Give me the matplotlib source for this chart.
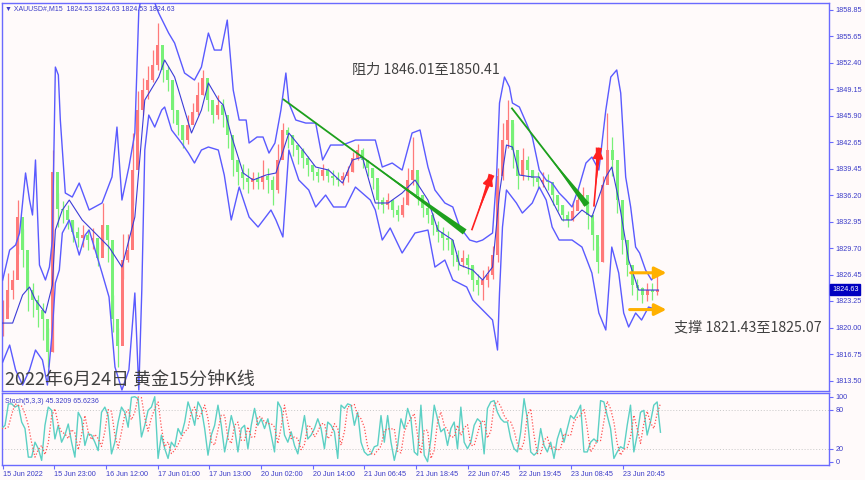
import numpy as np
import pandas as pd
import matplotlib
matplotlib.use("Agg")
import matplotlib.pyplot as plt
import matplotlib.transforms as mtransforms

# ---------------- data ----------------
close = [1821.0, 1824.6, 1825.8, 1833.5, 1829.5, 1824.6, 1823.4, 1822.2, 1821.0, 1817.0,
         1839.0, 1834.5, 1834.4, 1833.2, 1831.7, 1831.0, 1831.3, 1830.7, 1831.0, 1828.5,
         1832.5, 1830.7, 1821.0, 1817.8, 1828.3, 1829.5, 1839.3, 1846.6, 1849.1, 1850.3,
         1852.1, 1854.6, 1851.5, 1850.3, 1846.6, 1844.8, 1843.0, 1844.8, 1846.4, 1848.5,
         1850.5, 1847.8, 1846.0, 1847.2, 1846.0, 1843.6, 1840.5, 1839.0, 1838.3, 1837.8,
         1838.3, 1837.8, 1838.6, 1838.1, 1836.8, 1840.5, 1844.2, 1843.6, 1842.3, 1841.7,
         1840.7, 1839.9, 1839.0, 1838.6, 1839.3, 1838.6, 1838.3, 1838.1, 1838.5, 1839.0,
         1840.7, 1841.7, 1840.5, 1839.5, 1838.3, 1835.6, 1835.0, 1835.6, 1834.4, 1833.8,
         1835.0, 1838.1, 1839.3, 1836.2, 1834.6, 1833.8, 1832.5, 1831.7, 1831.0, 1830.7,
         1828.9, 1828.0, 1828.5, 1827.7, 1825.8, 1825.2, 1825.8, 1826.4, 1828.9, 1838.6,
         1843.0, 1845.4, 1841.7, 1838.6, 1840.5, 1839.3, 1838.3, 1837.8, 1838.1, 1837.8,
         1836.2, 1835.0, 1833.8, 1833.2, 1834.2, 1835.6, 1836.2, 1833.8, 1831.3, 1828.0,
         1837.5, 1841.7, 1840.5, 1835.6, 1830.7, 1827.7, 1825.2, 1824.8, 1824.0, 1824.6,
         1824.4, 1824.63]
high = [1823.4, 1826.7, 1827.0, 1835.6, 1832.0, 1827.0, 1825.4, 1824.0, 1823.0, 1820.0,
        1841.7, 1836.5, 1835.5, 1835.0, 1833.0, 1832.3, 1832.5, 1832.0, 1832.2, 1830.5,
        1835.2, 1832.5, 1824.0, 1820.0, 1831.5, 1831.5, 1843.8, 1849.0, 1850.5, 1852.0,
        1854.0, 1857.2, 1853.0, 1852.0, 1848.5, 1846.5, 1844.8, 1846.0, 1847.5, 1850.0,
        1851.5, 1850.0, 1847.5, 1848.5, 1848.0, 1845.5, 1843.0, 1840.5, 1840.0, 1839.5,
        1839.0, 1839.0, 1840.5, 1839.5, 1838.5, 1842.5, 1845.0, 1844.5, 1843.5, 1842.5,
        1842.0, 1841.0, 1840.0, 1839.5, 1840.0, 1839.5, 1839.3, 1839.0, 1839.0, 1839.8,
        1841.5, 1842.5, 1842.0, 1840.5, 1839.5, 1837.5, 1836.0, 1836.5, 1835.6, 1835.0,
        1836.0, 1839.5, 1843.3, 1838.5, 1836.0, 1835.0, 1834.0, 1833.0, 1832.3, 1831.8,
        1830.5, 1829.5, 1829.5, 1829.0, 1827.5, 1826.5, 1827.0, 1827.5, 1830.0, 1839.5,
        1845.0, 1847.8, 1845.0, 1841.0, 1842.0, 1841.0, 1839.3, 1839.0, 1839.0, 1838.8,
        1837.2, 1836.0, 1835.0, 1834.3, 1835.5, 1837.0, 1837.2, 1835.5, 1833.0, 1830.0,
        1838.5, 1846.2, 1843.3, 1838.5, 1833.0, 1829.0, 1826.7, 1826.0, 1825.0, 1825.5,
        1825.5, 1826.4]
low = [1819.0, 1822.5, 1823.5, 1829.0, 1827.4, 1822.0, 1821.3, 1820.1, 1818.5, 1815.2,
       1817.0, 1832.3, 1832.8, 1832.0, 1830.5, 1829.8, 1829.9, 1829.5, 1829.6, 1827.5,
       1830.0, 1828.0, 1819.5, 1815.2, 1826.0, 1828.0, 1835.0, 1844.0, 1846.0, 1848.0,
       1850.0, 1851.5, 1850.0, 1849.0, 1845.0, 1843.5, 1842.0, 1842.5, 1845.0, 1846.0,
       1848.5, 1846.5, 1845.0, 1845.5, 1844.5, 1842.0, 1838.5, 1837.5, 1837.0, 1836.5,
       1837.0, 1837.0, 1837.0, 1836.5, 1835.0, 1836.5, 1841.5, 1842.0, 1841.0, 1840.0,
       1839.5, 1838.5, 1838.0, 1837.8, 1838.0, 1837.8, 1837.5, 1837.3, 1837.5, 1837.8,
       1839.0, 1840.5, 1839.5, 1838.5, 1837.0, 1834.5, 1834.0, 1834.5, 1833.5, 1833.0,
       1833.5, 1835.0, 1837.5, 1835.0, 1833.5, 1832.8, 1831.3, 1830.5, 1829.5, 1829.5,
       1827.5, 1827.0, 1827.4, 1826.5, 1824.5, 1824.0, 1823.4, 1825.0, 1826.0, 1828.0,
       1838.0, 1842.0, 1839.5, 1837.0, 1838.0, 1838.0, 1837.3, 1837.0, 1837.2, 1836.8,
       1835.0, 1834.3, 1833.0, 1832.3, 1833.0, 1834.5, 1835.0, 1832.0, 1829.5, 1826.7,
       1828.0, 1838.0, 1838.5, 1834.0, 1829.0, 1826.3, 1824.0, 1823.4, 1823.0, 1823.2,
       1823.4, 1824.0]
first_bar, last_bar = 0, 659

upper_x = [0, 7, 13, 17, 23, 27, 30, 33, 37, 43, 47, 50, 53, 56, 58, 63, 70, 77, 87, 100,
           110, 115, 120, 127, 133, 137, 140, 150, 157, 167, 173, 183, 193, 200, 207, 213, 220, 226, 232, 238,
           245, 248, 256, 262, 268, 274, 280, 285, 288, 295, 305, 315, 322, 330, 342, 355, 375, 382, 392, 402,
           412, 420, 428, 435, 445, 453, 460, 470, 477, 483, 493, 497, 500, 505, 510, 513, 520, 527, 533, 540,
           547, 553, 560, 567, 573, 580, 587, 593, 600, 607, 612, 618, 622, 627, 632, 637, 641, 647, 653, 660]
upper = [1825.82, 1829.48, 1830.10, 1831.57, 1838.91, 1835.60, 1833.77, 1840.50, 1827.65, 1825.82,
         1827.40, 1830.71, 1851.87, 1850.90, 1845.39, 1836.46, 1835.97, 1837.68, 1834.38, 1835.24,
         1838.42, 1844.53, 1835.60, 1839.64, 1843.80, 1858.85, 1860.68, 1860.68, 1858.48, 1856.03,
         1854.81, 1851.14, 1850.28, 1851.87, 1856.03, 1853.95, 1853.95, 1857.62, 1849.06, 1845.39,
         1845.39, 1842.58, 1843.31, 1843.31, 1841.35, 1842.58, 1846.61, 1851.14, 1847.47, 1845.39,
         1845.02, 1845.02, 1840.50, 1842.33, 1842.33, 1842.94, 1842.94, 1839.64, 1840.13, 1839.27,
         1843.80, 1844.17, 1839.64, 1836.83, 1835.24, 1834.75, 1832.30, 1830.71, 1830.46, 1830.71,
         1831.57, 1838.42, 1847.47, 1850.65, 1849.43, 1847.47, 1846.98, 1845.02, 1843.31, 1839.27,
         1838.05, 1837.68, 1836.46, 1835.60, 1834.75, 1837.19, 1840.13, 1840.86, 1839.27, 1846.61,
         1850.65, 1851.51, 1848.69, 1838.42, 1834.75, 1829.85, 1829.12, 1827.04, 1825.82, 1827.04]

lower_x = [0, 7, 13, 20, 27, 33, 40, 45, 50, 53, 57, 60, 67, 77, 83, 87, 100, 107, 113, 120,
           127, 133, 137, 140, 143, 147, 153, 160, 163, 170, 180, 187, 193, 200, 207, 217, 223, 230, 238, 248,
           257, 270, 275, 282, 288, 298, 308, 315, 325, 333, 345, 355, 370, 375, 382, 390, 402, 415, 428, 435,
           445, 453, 467, 473, 483, 493, 498, 500, 503, 507, 517, 523, 533, 540, 547, 553, 560, 573, 583, 593,
           600, 607, 613, 620, 625, 630, 637, 643, 650, 660]
lower = [1815.78, 1817.86, 1814.81, 1812.97, 1814.81, 1817.25, 1816.03, 1812.97, 1819.70, 1825.45,
         1827.04, 1831.57, 1833.16, 1828.87, 1831.32, 1831.93, 1826.67, 1823.74, 1815.17, 1812.36,
         1814.81, 1824.23, 1812.36, 1824.59, 1841.72, 1846.00, 1844.53, 1846.61, 1846.98, 1844.17,
         1842.58, 1841.35, 1840.13, 1841.72, 1842.09, 1841.72, 1838.66, 1833.16, 1837.19, 1833.52,
         1832.30, 1834.38, 1833.16, 1831.08, 1841.72, 1838.05, 1836.83, 1834.75, 1836.21, 1834.75,
         1834.75, 1837.19, 1835.60, 1834.38, 1830.71, 1832.18, 1829.12, 1831.57, 1831.93, 1827.40,
         1828.26, 1825.82, 1824.96, 1823.37, 1822.15, 1820.92, 1817.25, 1824.23, 1832.30, 1836.83,
         1835.24, 1834.01, 1835.24, 1837.19, 1835.60, 1832.30, 1830.71, 1830.71, 1829.85, 1826.67,
         1821.78, 1819.70, 1829.85, 1826.67, 1821.78, 1820.07, 1821.78, 1820.92, 1822.51, 1822.15]

middle_x = [0, 10, 20, 27, 33, 43, 50, 53, 60, 67, 80, 93, 107, 120, 133, 143, 157, 163, 173, 183,
            190, 200, 207, 217, 222, 230, 242, 252, 265, 275, 288, 302, 315, 328, 342, 352, 362, 375, 388, 402,
            415, 428, 438, 453, 460, 473, 483, 493, 500, 507, 513, 520, 533, 540, 550, 563, 573, 583, 593, 607,
            613, 620, 630, 640, 653, 660]
middle = [1820.55, 1820.55, 1823.98, 1824.96, 1823.37, 1821.78, 1825.20, 1831.93, 1834.38, 1835.60,
          1833.16, 1831.57, 1829.85, 1827.40, 1833.52, 1847.84, 1850.65, 1852.73, 1850.65, 1846.61,
          1843.80, 1846.61, 1849.92, 1847.84, 1847.22, 1843.55, 1838.91, 1838.05, 1838.66, 1838.91,
          1843.80, 1841.72, 1839.64, 1839.27, 1837.68, 1840.50, 1840.86, 1835.24, 1835.24, 1836.46,
          1838.05, 1835.60, 1831.93, 1830.71, 1827.65, 1827.04, 1825.82, 1827.40, 1836.46, 1842.33,
          1842.09, 1838.66, 1838.42, 1838.42, 1836.21, 1833.16, 1833.16, 1834.38, 1833.52, 1838.42,
          1839.64, 1835.60, 1828.26, 1824.59, 1824.59, 1824.59]

stoch_k = [51, 56, 89, 89, 84, 87, 61, 51, 7, 7, 30, 20, 2, 56, 84, 79, 35, 56, 30, 41,
           58, 30, 7, 76, 66, 25, 43, 41, 30, 17, 76, 84, 71, 12, 30, 61, 84, 76, 53, 99,
           100, 97, 38, 56, 79, 84, 100, 5, 41, 20, 5, 30, 23, 51, 41, 61, 92, 76, 56, 92,
           82, 51, 10, 41, 56, 87, 56, 15, 41, 71, 51, 15, 51, 56, 20, 56, 82, 56, 66, 51,
           66, 41, 15, 92, 82, 41, 30, 46, 25, 12, 41, 71, 35, 41, 51, 66, 51, 20, 61, 56,
           46, 5, 87, 82, 89, 87, 56, 76, 30,
           15, 10, 12, 23, 25, 71, 30, 71, 30, 2, 25, 66, 51, 82, 66, 15, 10, 87, 10, 0,
           35, 87, 66, 46, 51, 25, 51, 61, 20, 84, 30, 20, 30, 56, 66, 61, 12, 82, 92, 94,
           76, 66, 61, 61, 35, 20, 15, 46, 97, 66, 15, 10, 15, 51, 25, 15, 30, 5, 35, 51,
           30, 51, 71, 66, 76, 87, 15, 15, 30, 35, 30, 94, 92, 71, 51, 5, 15, 23, 20, 56,
           87, 15, 41, 76, 79, 41, 61, 87, 92, 45.3209]
stoch_first_bar, stoch_last_bar = -1, 662

tick_labels = ['15 Jun 2022', '15 Jun 23:00', '16 Jun 12:00', '17 Jun 01:00', '17 Jun 13:00',
               '20 Jun 02:00', '20 Jun 14:00', '21 Jun 06:45', '21 Jun 18:45', '22 Jun 07:45',
               '22 Jun 19:45', '23 Jun 08:45', '23 Jun 20:45']
bars_per_label = 52
price_ticks = [1858.85, 1855.65, 1852.40, 1849.15, 1845.90, 1842.65, 1839.45, 1836.20,
               1832.95, 1829.70, 1826.45, 1823.25, 1820.00, 1816.75, 1813.50]
stoch_ticks = [100, 80, 20, 0]
last_price = 1824.63

# annotation arrows: (bar_start, price_start, bar_end, price_end)
green_arrows = [(282, 1847.96, 465, 1831.70), (512, 1846.90, 588, 1835.00)]
red_arrows = [(472, 1831.90, 492, 1838.70), (595, 1834.80, 600, 1842.00)]
orange_arrows = [(632, 1826.70, 668, 1826.70), (631, 1822.20, 668, 1822.20)]

# ---------------- style ----------------
BG = '#fffafa'
FRAME = '#6a6aff'
TXT_BLUE = '#3c3cc8'
plt.rcParams['font.family'] = ['Liberation Sans', 'DejaVu Sans']
CJK = ['Noto Sans CJK SC', 'DejaVu Sans']

W, H = 865, 480
fig = plt.figure(figsize=(W / 100, H / 100), dpi=100, facecolor=BG)

px_per_bar = 0.9936
x0_px = 2.7
def bx(px):
    return (px - x0_px) / px_per_bar

ax_l, ax_r = 2, 829
main_top, main_bot = 2.5, 391
st_top, st_bot = 393, 465
ax = fig.add_axes([ax_l / W, 1 - main_bot / H, (ax_r - ax_l) / W, (main_bot - main_top) / H])
ax2 = fig.add_axes([ax_l / W, 1 - st_bot / H, (ax_r - ax_l) / W, (st_bot - st_top) / H])
for a in (ax, ax2):
    a.set_facecolor(BG)
    for s in a.spines.values():
        s.set_color(FRAME)
        s.set_linewidth(1.0)
    a.set_xlim(bx(ax_l), bx(ax_r))

def py2price(y):
    return 1858.85 - (y - 10) / 8.174

ax.set_ylim(py2price(main_bot), py2price(main_top))

# candles
n = len(close)
cx = np.linspace(first_bar, last_bar, n)
opens = np.r_[close[0], close[:-1]]
closes = np.array(close)
for xi, o, c, h, l in zip(cx, opens, closes, high, low):
    col = '#ff7a7a' if c >= o else '#78f078'
    lo_, hi_ = min(o, c), max(o, c)
    if hi_ - lo_ < 0.15:
        hi_ = lo_ + 0.15
    ax.vlines(xi, l, h, color=col, lw=0.9, zorder=2)
    ax.bar(xi, hi_ - lo_, bottom=lo_, width=2.6, color=col, linewidth=0, zorder=2)

# bands
ax.plot(upper_x, upper, color='#5a5aff', lw=1.0, zorder=3)
ax.plot(lower_x, lower, color='#5a5aff', lw=1.0, zorder=3)
ax.plot(middle_x, middle, color='#3c3cd8', lw=0.8, zorder=3)

# arrows
def tapered(a, p0, p1, color, width, shrink):
    a.annotate('', xy=p0, xytext=p1,
               arrowprops=dict(arrowstyle=f'wedge,tail_width={width},shrink_factor={shrink}',
                               color=color, lw=0, shrinkA=0, shrinkB=0), zorder=5)

for (x0, y0, x1, y1) in green_arrows:
    ax.plot([x0, x1], [y0, y1], color='#1ea01e', lw=1.3, solid_capstyle='butt', zorder=5)
    tapered(ax, (x0, y0), (x1, y1), '#1ea01e', 0.45, 0.1)
for (x0, y0, x1, y1) in red_arrows:
    ax.plot([x0, x1], [y0, y1], color='#ff2020', lw=1.2, solid_capstyle='butt', zorder=5)
    tapered(ax, (x0, y0), (x1, y1), '#ff2020', 0.45, 0.2)
    ax.annotate('', xy=(x1, y1), xytext=(x0 + (x1 - x0) * 0.8, y0 + (y1 - y0) * 0.8),
                arrowprops=dict(arrowstyle='-|>,head_length=0.6,head_width=0.3', color='#ff2020',
                                lw=1.5, shrinkA=0, shrinkB=0), zorder=5)
for (x0, y0, x1, y1) in orange_arrows:
    ax.annotate('', xy=(x1, y1), xytext=(x0, y0),
                arrowprops=dict(arrowstyle='-|>,head_length=0.7,head_width=0.35', color='#ffb000',
                                lw=2.2, shrinkA=0, shrinkB=0), zorder=5)

# axis ticks main
ax.yaxis.tick_right()
ax.set_yticks(price_ticks)
ax.set_yticklabels([f'{v:.2f}' for v in price_ticks])
ax.tick_params(axis='y', colors=FRAME, labelcolor=TXT_BLUE, labelsize=5.2, length=3, width=0.8, pad=1.5)
ax.set_xticks([])

# last price label
trans = mtransforms.blended_transform_factory(ax.transAxes, ax.transData)
ax.text(1.0 + 3 / (ax_r - ax_l), last_price, f'{last_price:.2f}', transform=trans, ha='left', va='center',
        fontsize=5.2, color='white', zorder=6,
        bbox=dict(boxstyle='square,pad=0.25', fc='#0000c0', ec='#0000c0'))

# texts
ax.text(bx(352), py2price(70), '阻力 1846.01至1850.41', family=CJK, fontsize=10.2, color='#404040',
        ha='left', va='center', zorder=7)
ax.text(bx(674), py2price(327), '支撑 1821.43至1825.07', family=CJK, fontsize=10.2, color='#404040',
        ha='left', va='center', zorder=7)
ax.text(bx(5), py2price(381), '2022年6月24日 黄金15分钟K线', family=CJK, fontsize=13, color='#404040',
        ha='left', va='center', zorder=7)
fig.text(5 / W, 1 - 9 / H, '▼ XAUUSD#,M15  1824.53 1824.63 1824.53 1824.63', fontsize=5.0,
         color=TXT_BLUE, ha='left', va='center')

# stochastic
k = np.array(stoch_k, dtype=float)
sx = np.linspace(stoch_first_bar, stoch_last_bar, len(k))
d = pd.Series(k).rolling(2, min_periods=1).mean().shift(1).bfill().values
ax2.set_ylim(-5.1, 105.7)
ax2.axhline(80, color='#c8c8c8', lw=0.7, ls=(0, (1, 2)))
ax2.axhline(20, color='#c8c8c8', lw=0.7, ls=(0, (1, 2)))
ax2.plot(sx, k, color='#5cd0c4', lw=1.0, zorder=3)
ax2.plot(sx, d, color='#ff5050', lw=0.9, ls=(0, (1, 1.5)), zorder=4)
ax2.yaxis.tick_right()
ax2.set_yticks(stoch_ticks)
ax2.set_yticklabels([str(v) for v in stoch_ticks])
ax2.tick_params(axis='y', colors=FRAME, labelcolor=TXT_BLUE, labelsize=5.2, length=3, width=0.8, pad=1.5)
tick_pos = [bars_per_label * i for i in range(len(tick_labels))]
ax2.set_xticks(tick_pos)
ax2.set_xticklabels(tick_labels, ha='left')
ax2.tick_params(axis='x', colors=FRAME, labelcolor=TXT_BLUE, labelsize=5.2, length=3, width=0.8, pad=1.5)
ax2.text(bx(5), 92, 'Stoch(5,3,3) 45.3209 65.6236', fontsize=5.0, color=TXT_BLUE,
         ha='left', va='center', zorder=6)

fig.savefig('out.png', dpi=100, facecolor=BG)
